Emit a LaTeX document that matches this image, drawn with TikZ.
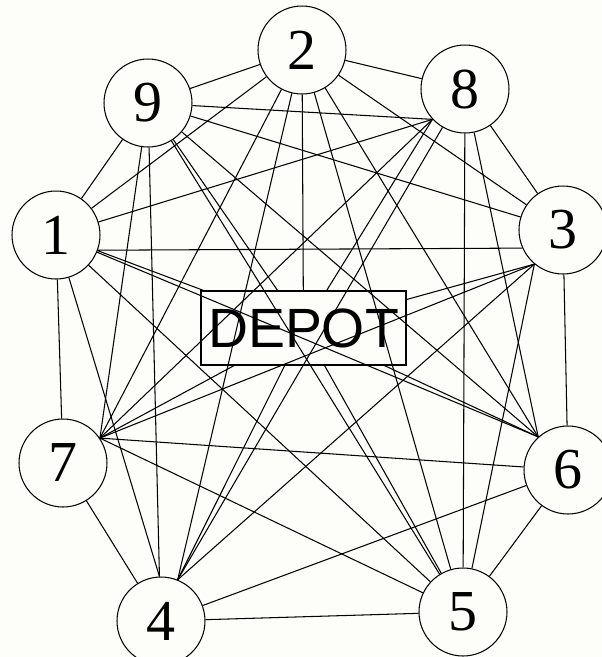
\documentclass[tikz,border=0pt]{standalone}
\usepackage{fontspec}
\setmainfont{Liberation Serif}
\setsansfont{Liberation Sans}
\definecolor{paper}{RGB}{253,253,249}
\begin{document}
\begin{tikzpicture}[x=0.02cm, y=-0.02cm, line width=0.6pt,
  city/.style={circle, draw, minimum size=1.76cm, inner sep=0pt, font=\fontsize{33pt}{33pt}\selectfont},
  depotbox/.style={rectangle, draw, minimum width=4.1cm, minimum height=1.48cm, inner sep=0pt, font=\sffamily\fontsize{31.5pt}{31.5pt}\selectfont}]
  % Frame
  \fill[paper] (0, 0) rectangle (602, 657);
  \useasboundingbox (0, 0) rectangle (602, 657);

  % Customers
  \node[city] (c1) at (56, 235) {1};
  \node[city] (c2) at (302, 50) {2};
  \node[city] (c3) at (563, 230) {3};
  \node[city] (c4) at (161, 621) {4};
  \node[city] (c5) at (463, 612) {5};
  \node[city] (c6) at (568, 470) {6};
  \node[city] (c7) at (63, 463) {7};
  \node[city] (c8) at (465, 89) {8};
  \node[city] (c9) at (148, 103) {9};

  % Depot
  \node[depotbox] (depot) at (303.5, 328) {DEPOT};

  % Edges (some leave a node from one shared point)
  \foreach \a/\b in {c1/c2, c1.-20/c3.204, c1/c4.92, c1/c5, c1/c6.132, c1/c7, c1/c8.223, c1/c9, c1/depot,
                     c2/c3, c2/c4.68, c2/c5, c2/c6.132, c2/c7.34, c2/c8, c2/c9, c2/depot,
                     c3.230/c4.68, c3.230/c5, c3/c6, c3.230/c7.34, c3/c8, c3/c9, c3.230/depot,
                     c4/c5, c4/c6, c4/c7, c4.68/c8, c4.92/c9, c4.68/depot,
                     c5/c6, c5/c7.34, c5/c8, c5/c9, c5/depot,
                     c6/c7.34, c6.132/c8, c6.132/c9, c6.132/depot,
                     c7.34/c8.223, c7.34/c9, c7.34/depot,
                     c8.223/c9, c8.223/depot,
                     c9/depot}
    \draw (\a) -- (\b);
\end{tikzpicture}
\end{document}
